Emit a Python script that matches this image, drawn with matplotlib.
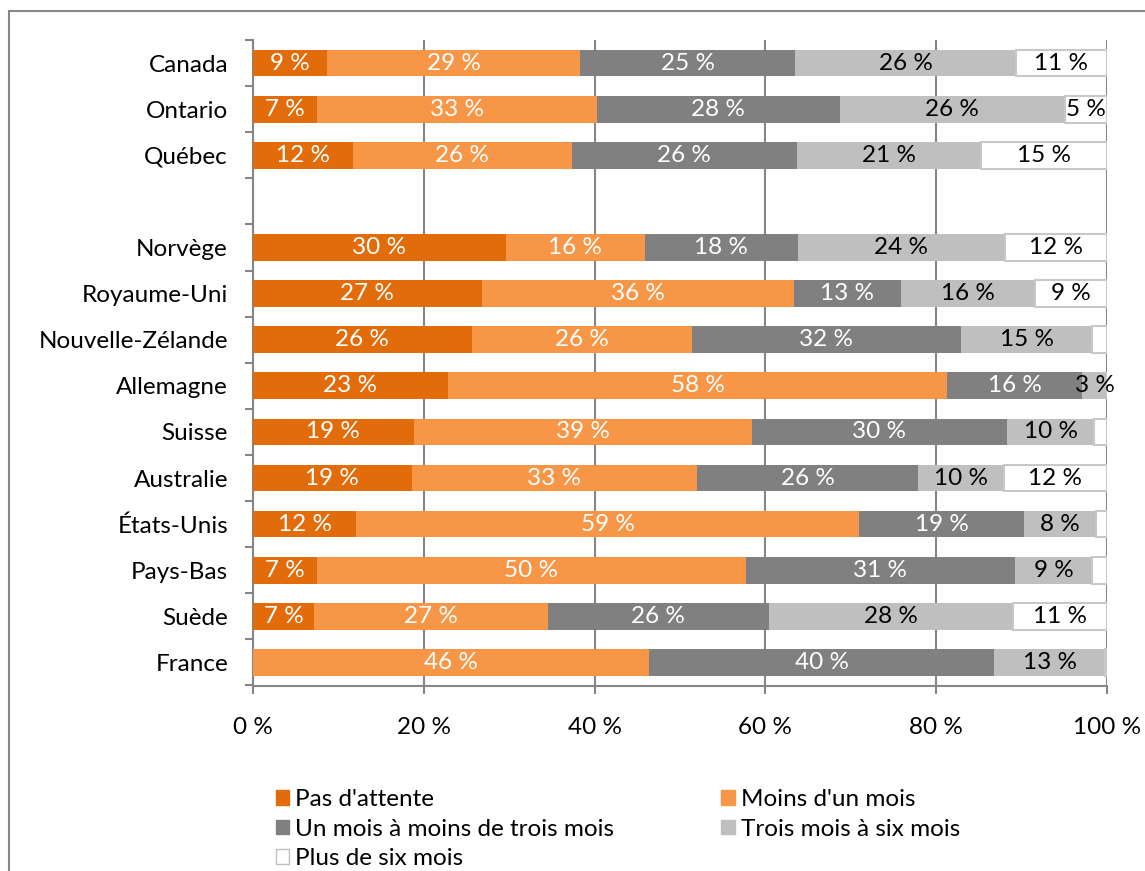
import matplotlib.pyplot as plt
from matplotlib.patches import Patch, Rectangle
import numpy as np

plt.rcParams['font.family'] = ['Lato', 'DejaVu Sans']

# rows from top to bottom, a blank slot goes after Québec
countries = ['Canada', 'Ontario', 'Québec',
             'Norvège', 'Royaume-Uni', 'Nouvelle-Zélande', 'Allemagne', 'Suisse',
             'Australie', 'États-Unis', 'Pays-Bas', 'Suède', 'France']
gap_after = 'Québec'

series = ["Pas d'attente", "Moins d'un mois", "Un mois à moins de trois mois",
          "Trois mois à six mois", "Plus de six mois"]

pas_attente = [8.7, 7.5, 11.7, 29.6, 26.8, 25.6, 22.8, 18.8, 18.6, 12.1, 7.5, 7.2, 0.0]
moins_un_mois = [29.6, 32.8, 25.6, 16.3, 36.5, 25.8, 58.5, 39.6, 33.4, 58.9, 50.2, 27.3, 46.4]
un_a_trois = [25.2, 28.4, 26.4, 17.9, 12.6, 31.5, 15.8, 29.9, 25.9, 19.3, 31.5, 25.9, 40.4]
trois_a_six = [25.8, 26.4, 21.6, 24.2, 15.7, 15.4, 2.9, 10.2, 10.0, 8.4, 9.1, 28.6, 13.0]
plus_six = [10.7, 4.9, 14.7, 12.0, 8.4, 1.7, 0.0, 1.5, 12.1, 1.3, 1.7, 11.0, 0.2]

# labels as printed on the bars (None = no label)
lab_pas = ['9 %', '7 %', '12 %', '30 %', '27 %', '26 %', '23 %', '19 %', '19 %', '12 %', '7 %', '7 %', None]
lab_moins = ['29 %', '33 %', '26 %', '16 %', '36 %', '26 %', '58 %', '39 %', '33 %', '59 %', '50 %', '27 %', '46 %']
lab_un = ['25 %', '28 %', '26 %', '18 %', '13 %', '32 %', '16 %', '30 %', '26 %', '19 %', '31 %', '26 %', '40 %']
lab_trois = ['26 %', '26 %', '21 %', '24 %', '16 %', '15 %', '3 %', '10 %', '10 %', '8 %', '9 %', '28 %', '13 %']
lab_plus = ['11 %', '5 %', '15 %', '12 %', '9 %', None, None, None, '12 %', None, None, '11 %', None]

xticks = [0, 20, 40, 60, 80, 100]
xtick_labels = ['0 %', '20 %', '40 %', '60 %', '80 %', '100 %']

colors = ['#E36C0A', '#F79646', '#808080', '#BFBFBF', '#FFFFFF']
text_colors = ['white', 'white', 'white', 'black', 'black']
fs = 17.5

# y positions with one empty slot
ypos = []
k = 0
for c in countries:
    ypos.append(k)
    k += 1
    if c == gap_after:
        k += 1
ypos = np.array(ypos)
nslots = k

fig = plt.figure(figsize=(11.45, 8.71), dpi=100)
ax = fig.add_axes([253 / 1145, 1 - 685.5 / 871, (1107 - 253) / 1145, (685.5 - 40) / 871])

data = [pas_attente, moins_un_mois, un_a_trois, trois_a_six, plus_six]
labels = [lab_pas, lab_moins, lab_un, lab_trois, lab_plus]
left = np.zeros(len(countries))
for i, vals in enumerate(data):
    vals = np.array(vals)
    edge = '#C8C8C8' if i == 4 else 'none'
    ax.barh(ypos, vals, left=left, height=0.58, color=colors[i],
            edgecolor=edge, linewidth=1.5 if i == 4 else 0, zorder=3)
    for y, l, v, t in zip(ypos, left, vals, labels[i]):
        if t is None:
            continue
        ax.text(l + v / 2, y, t, ha='center', va='center', fontsize=fs,
                color=text_colors[i], zorder=4)
    left = left + vals

ax.set_xlim(0, 100)
ax.set_ylim(nslots - 0.5, -0.5)
ax.set_xticks(xticks)
ax.set_xticklabels(xtick_labels, fontsize=fs)
ax.set_yticks(ypos)
ax.set_yticklabels(countries, fontsize=fs)
ax.set_yticks(np.arange(nslots + 1) - 0.5, minor=True)
ax.tick_params(axis='y', which='major', length=0, pad=18)
ax.tick_params(axis='y', which='minor', length=6, width=1.5, color='#868686')
ax.tick_params(axis='x', length=6, width=1.5, color='#868686', pad=17)

ax.grid(axis='x', color='#868686', linewidth=1.5, zorder=0)
for s in ['top', 'right']:
    ax.spines[s].set_visible(False)
for s in ['left', 'bottom']:
    ax.spines[s].set_color('#868686')
    ax.spines[s].set_linewidth(1.5)

# legend: two columns, filled column-wise
handles = [Patch(facecolor=c, edgecolor='#BFBFBF' if c == '#FFFFFF' else c, linewidth=1)
           for c in colors]
order = [0, 2, 4, 1, 3]
fig.legend([handles[i] for i in order], [series[i] for i in order], ncol=2,
           loc='upper left', bbox_to_anchor=(276 / 1145, 1 - 789 / 871),
           frameon=False, fontsize=fs, handlelength=0.55, handleheight=0.55,
           handletextpad=0.25, labelspacing=0.35, columnspacing=4.4,
           borderpad=0, borderaxespad=0)

# outer chart frame
fig.patches.append(Rectangle((9 / 1145, -0.05), 1.2, 1 - 11 / 871 + 0.05,
                             transform=fig.transFigure, fill=False,
                             edgecolor='#878787', linewidth=1.5))

plt.savefig('out.png', dpi=100)
